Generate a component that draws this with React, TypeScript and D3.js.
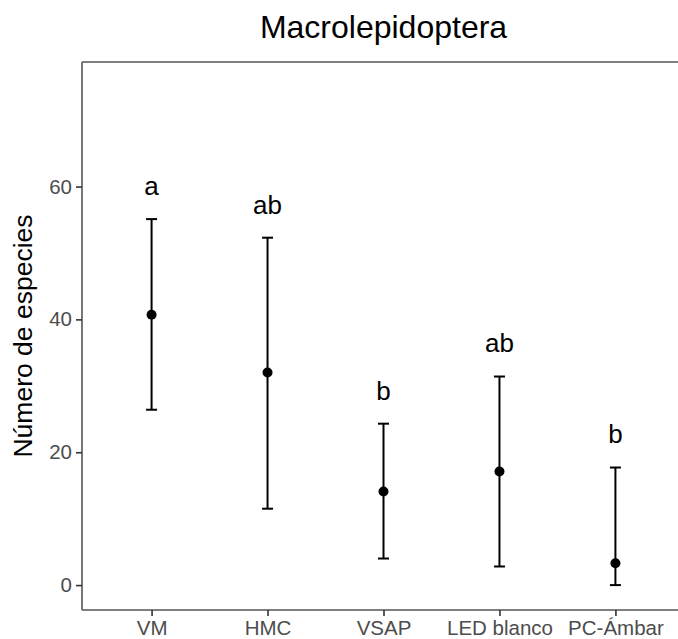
import React, { useEffect, useRef } from "react";
import * as d3 from "d3";

const categories = ["VM", "HMC", "VSAP", "LED blanco", "PC-Ámbar"];
const means = [40.7, 32.0, 14.1, 17.1, 3.3];
const lower = [26.4, 11.5, 4.0, 2.8, 0.0];
const upper = [55.1, 52.3, 24.3, 31.4, 17.7];
const letters = ["a", "ab", "b", "ab", "b"];
const yTicks = [0, 20, 40, 60];

function App() {
  const ref = useRef<SVGSVGElement>(null);

  useEffect(() => {
    const width = 678;
    const height = 639;
    const margin = { top: 62, right: -7, bottom: 29, left: 82 };
    const font = "'Liberation Sans', Arial, Helvetica, sans-serif";

    const svg = d3.select(ref.current).attr("width", width).attr("height", height);
    svg.selectAll("*").remove();

    const x = d3
      .scalePoint<string>()
      .domain(categories)
      .range([margin.left, width - margin.right])
      .padding(0.6);
    const y = d3
      .scaleLinear()
      .domain([-3.75, 78.75])
      .range([height - margin.bottom, margin.top]);

    const data = categories.map((c, i) => ({
      c,
      mean: means[i],
      lo: lower[i],
      hi: upper[i],
      letter: letters[i],
    }));

    // panel border (right side falls outside the picture)
    const x0 = margin.left;
    const x1 = width - margin.right;
    const y0 = margin.top;
    const y1 = height - margin.bottom;
    const border = svg.append("g").attr("stroke", "#555").attr("stroke-width", 1.6);
    border.append("line").attr("x1", x0).attr("x2", x1).attr("y1", y0).attr("y2", y0);
    border.append("line").attr("x1", x0).attr("x2", x1).attr("y1", y1).attr("y2", y1);
    border.append("line").attr("x1", x0).attr("x2", x0).attr("y1", y0).attr("y2", y1);

    // y axis
    const yAxis = svg
      .append("g")
      .attr("transform", `translate(${margin.left},0)`)
      .call(d3.axisLeft(y).tickValues(yTicks).tickSize(6).tickPadding(4));
    yAxis.select(".domain").remove();
    yAxis.selectAll(".tick line").attr("stroke", "#333").attr("stroke-width", 1.6);
    yAxis
      .selectAll(".tick text")
      .attr("fill", "#4d4d4d")
      .style("font-family", font)
      .style("font-size", "20.5px");

    // x axis
    const xAxis = svg
      .append("g")
      .attr("transform", `translate(0,${height - margin.bottom})`)
      .call(d3.axisBottom(x).tickSize(6).tickPadding(4));
    xAxis.select(".domain").remove();
    xAxis.selectAll(".tick line").attr("stroke", "#333").attr("stroke-width", 1.6);
    xAxis
      .selectAll(".tick text")
      .attr("fill", "#4d4d4d")
      .style("font-family", font)
      .style("font-size", "20.5px");

    // error bars
    const g = svg.append("g");
    const capW = 5.5;
    g.selectAll("line.bar")
      .data(data)
      .enter()
      .append("line")
      .attr("x1", (d) => x(d.c)!)
      .attr("x2", (d) => x(d.c)!)
      .attr("y1", (d) => y(d.lo))
      .attr("y2", (d) => y(d.hi))
      .attr("stroke", "black")
      .attr("stroke-width", 2);
    ["lo", "hi"].forEach((k) => {
      g.selectAll(`line.cap-${k}`)
        .data(data)
        .enter()
        .append("line")
        .attr("x1", (d) => x(d.c)! - capW)
        .attr("x2", (d) => x(d.c)! + capW)
        .attr("y1", (d: any) => y(d[k]))
        .attr("y2", (d: any) => y(d[k]))
        .attr("stroke", "black")
        .attr("stroke-width", 2);
    });
    g.selectAll("circle")
      .data(data)
      .enter()
      .append("circle")
      .attr("cx", (d) => x(d.c)!)
      .attr("cy", (d) => y(d.mean))
      .attr("r", 5)
      .attr("fill", "black");

    // significance letters
    g.selectAll("text.letter")
      .data(data)
      .enter()
      .append("text")
      .attr("x", (d) => x(d.c)!)
      .attr("y", (d) => y(d.hi + 5))
      .attr("dy", "0.35em")
      .attr("text-anchor", "middle")
      .style("font-family", font)
      .style("font-size", "26px")
      .attr("fill", "black")
      .text((d) => d.letter);

    // y axis title
    svg
      .append("text")
      .attr("transform", `translate(32,${(y0 + y1) / 2}) rotate(-90)`)
      .attr("text-anchor", "middle")
      .style("font-family", font)
      .style("font-size", "26.5px")
      .attr("fill", "black")
      .text("Número de especies");

    // title
    svg
      .append("text")
      .attr("x", (x0 + x1) / 2)
      .attr("y", 38)
      .attr("text-anchor", "middle")
      .style("font-family", font)
      .style("font-size", "32px")
      .attr("fill", "black")
      .text("Macrolepidoptera");
  }, []);

  return (
    <div style={{ position: "absolute", top: 0, left: 0, background: "white" }}>
      <svg ref={ref} style={{ display: "block", overflow: "hidden" }}></svg>
    </div>
  );
}

export default App;
